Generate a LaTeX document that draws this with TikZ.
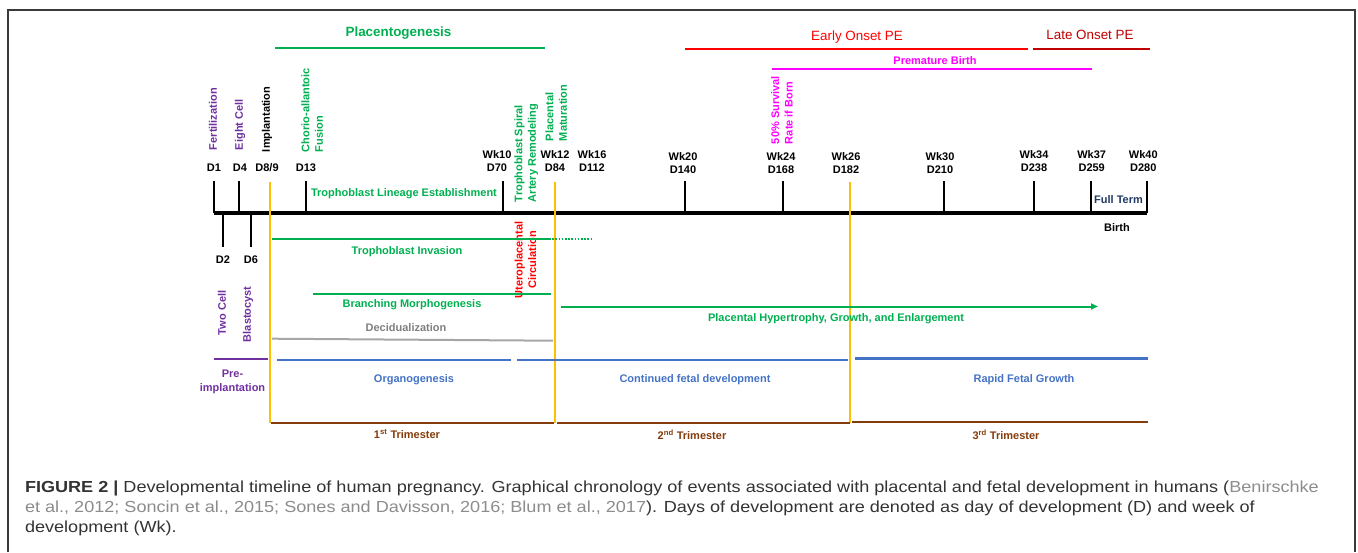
\documentclass[tikz,border=0pt]{standalone}
\usepackage{fontspec}
\setmainfont{Liberation Sans}
\newfontfamily\capfont[FakeStretch=1.13]{Liberation Sans}
\usetikzlibrary{arrows.meta}
\definecolor{cgreen}{HTML}{00B050}
\definecolor{cpurple}{HTML}{7030A0}
\definecolor{cred}{HTML}{FF0000}
\definecolor{cdred}{HTML}{C00000}
\definecolor{cmag}{HTML}{FF00FF}
\definecolor{cblue}{HTML}{4472C4}
\definecolor{cnavy}{HTML}{203864}
\definecolor{cbrown}{HTML}{843C0C}
\definecolor{corange}{HTML}{FFC000}
\definecolor{cgrayline}{HTML}{A6A6A6}
\definecolor{cgraytext}{HTML}{7F7F7F}
\definecolor{cframe}{HTML}{3A3A3A}
\definecolor{ccap}{HTML}{333333}
\definecolor{cref}{HTML}{8C8C8C}
\begin{document}
\begin{tikzpicture}[x=1pt,y=-1pt,
  every node/.style={inner sep=0pt, outer sep=0pt},
  lbl/.style={font=\bfseries\fontsize{11}{13.5}\selectfont},
  ticklbl/.style={align=center, font=\bfseries\fontsize{11}{13}\selectfont},
  vlbl/.style={lbl, rotate=90, anchor=west, align=left},
  tickline/.style={line width=1.8pt, black},
  axisline/.style={line width=3.5pt, black},
  orangeline/.style={corange, line width=1.6pt},
  trimline/.style={cbrown, line width=2pt},
  fetalline/.style={cblue, line width=2.5pt},
  greenline/.style={cgreen, line width=2pt},
  capline/.style={anchor=west, font=\capfont\fontsize{16}{19}\selectfont, text=ccap},
  ]
\useasboundingbox (0,0) rectangle (1358,552);
% frame
\coordinate (fbl) at (8,552);
\coordinate (ftl) at (8,10);
\coordinate (ftr) at (1355,10);
\coordinate (fbr) at (1355,552);
\draw[cframe, line width=1.5pt] (fbl) -- (ftl) -- (ftr) -- (fbr);

% axis
\coordinate (a0) at (214,213);
\coordinate (a1) at (1147,213);
\draw[axisline] (a0) -- (a1);
\foreach \n/\x in {t1/214, t4/239, t13/306, t70/503, t140/685, t168/783, t210/944, t238/1034, t259/1091, t280/1147}{
  \coordinate (\n) at (\x,181);
  \draw[tickline] (\n) -- (\n |- a0);
}
\foreach \n/\x in {t2/223, t6/251}{
  \coordinate (\n) at (\x,247);
  \draw[tickline] (\n |- a0) -- (\n);
}

% tick labels
\node[ticklbl] (lD1) at (214,168) {D1};
\node[ticklbl] (lD4) at (240,168) {D4};
\node[ticklbl] (lD8) at (267,168) {D8/9};
\node[ticklbl] (lD13) at (306,168) {D13};
\node[ticklbl] (lD70) at (497,161.5) {Wk10\\D70};
\node[ticklbl] (lD84) at (555,161.5) {Wk12\\D84};
\node[ticklbl] (lD112) at (592,161.5) {Wk16\\D112};
\node[ticklbl] (lD140) at (683,163.3) {Wk20\\D140};
\node[ticklbl] (lD168) at (781,163.3) {Wk24\\D168};
\node[ticklbl] (lD182) at (846,163.3) {Wk26\\D182};
\node[ticklbl] (lD210) at (940,163.3) {Wk30\\D210};
\node[ticklbl] (lD238) at (1034,161.5) {Wk34\\D238};
\node[ticklbl] (lD259) at (1091.7,161.5) {Wk37\\D259};
\node[ticklbl] (lD280) at (1143.3,161.5) {Wk40\\D280};
\node[ticklbl] (lD2) at (223,260) {D2};
\node[ticklbl] (lD6) at (251,260) {D6};

% vertical event labels
\node[vlbl, text=cpurple] (fert) at (213,150) {Fertilization};
\node[vlbl, text=cpurple] (eight) at (240,150) {Eight Cell};
\node[vlbl, text=black] (impl) at (267,152) {Implantation};
\node[vlbl, text=cgreen] (chorio) at (312.3,152) {Chorio-allantoic\\Fusion};
\node[vlbl, text=cgreen] (spiral) at (526.3,202) {Trophoblast Spiral\\Artery Remodeling};
\node[vlbl, text=cgreen] (matur) at (556.3,141) {Placental\\Maturation};
\node[vlbl, text=cmag] (surv) at (782,144) {50\% Survival\\Rate if Born};
\node[vlbl, text=cpurple] (twocell) at (222,335) {Two Cell};
\node[vlbl, text=cpurple] (blast) at (248,342) {Blastocyst};
\node[lbl, rotate=90, align=center, text=cred] (utero) at (525.5,260) {Uteroplacental\\Circulation};

% top bars
\coordinate (pg0) at (275,47.7);
\coordinate (pg1) at (545,47.7);
\draw[cgreen, line width=2.2pt] (pg0) -- (pg1);
\node[font=\bfseries\fontsize{13.4}{15}\selectfont, text=cgreen] (placento) at (398.5,33) {Placentogenesis};
\coordinate (eo0) at (685,49);
\coordinate (eo1) at (1028,49);
\draw[cred, line width=2.2pt] (eo0) -- (eo1);
\node[font=\fontsize{13.4}{15}\selectfont, text=cred] (early) at (857,37) {Early Onset PE};
\coordinate (lo0) at (1033,49);
\coordinate (lo1) at (1150,49);
\draw[cdred, line width=2.2pt] (lo0) -- (lo1);
\node[font=\fontsize{13.4}{15}\selectfont, text=cdred] (late) at (1090,35) {Late Onset PE};
\coordinate (pm0) at (772,69.3);
\coordinate (pm1) at (1092,69.3);
\draw[cmag, line width=2pt] (pm0) -- (pm1);
\node[lbl, text=cmag] (premat) at (935,61) {Premature Birth};

% labels near axis
\node[lbl, text=cgreen] (lineage) at (404,193.5) {Trophoblast Lineage Establishment};
\node[lbl, text=cnavy] (fullterm) at (1118.5,200) {Full Term};
\node[lbl, text=black] (birth) at (1117,228) {Birth};

% orange trimester boundaries
\coordinate (o1t) at (270,182); \coordinate (o1b) at (270,423);
\coordinate (o2t) at (555,182); \coordinate (o2b) at (555,423);
\coordinate (o3t) at (850,182); \coordinate (o3b) at (850,423);
\draw[orangeline] (o1t) -- (o1b);
\draw[orangeline] (o2t) -- (o2b);
\draw[orangeline] (o3t) -- (o3b);

% placental processes
\coordinate (ti0) at (272,239.3); \coordinate (ti1) at (549,239.3); \coordinate (ti2) at (592,239.3);
\draw[greenline] (ti0) -- (ti1);
\draw[cgreen, line width=1.8pt, dash pattern=on 1.6pt off 1.6pt] (ti1) -- (ti2);
\node[lbl, text=cgreen] (invasion) at (407,252) {Trophoblast Invasion};
\coordinate (bm0) at (313,293.7); \coordinate (bm1) at (551,293.7);
\draw[greenline] (bm0) -- (bm1);
\node[lbl, text=cgreen] (branch) at (412,305) {Branching Morphogenesis};
\node[lbl, text=cgraytext] (decid) at (406,328) {Decidualization};
\coordinate (de0) at (272,338.7); \coordinate (de1) at (553,340.7);
\draw[cgrayline, line width=2pt] (de0) -- (de1);
\coordinate (ph0) at (561,306.5); \coordinate (ph1) at (1098,306.5);
\draw[greenline, -{Triangle[length=7pt, width=6pt]}] (ph0) -- (ph1);
\node[lbl, text=cgreen] (hyper) at (836,318.5) {Placental Hypertrophy, Growth, and Enlargement};

% pre-implantation
\coordinate (pi0) at (214,359); \coordinate (pi1) at (268,359);
\draw[cpurple, line width=2.2pt] (pi0) -- (pi1);
\node[lbl, align=center, text=cpurple, font=\bfseries\fontsize{11}{14}\selectfont] (preimpl) at (232.5,382) {Pre-\\implantation};

% fetal development
\coordinate (f10) at (277,360); \coordinate (f11) at (511,360);
\coordinate (f20) at (517,360); \coordinate (f21) at (848,360);
\coordinate (f30) at (855,358.5); \coordinate (f31) at (1148,358.5);
\draw[fetalline] (f10) -- (f11);
\draw[fetalline] (f20) -- (f21);
\draw[fetalline] (f30) -- (f31);
\node[lbl, text=cblue] (organo) at (414,380) {Organogenesis};
\node[lbl, text=cblue] (contfetal) at (695,380) {Continued fetal development};
\node[lbl, text=cblue] (rapid) at (1024,380) {Rapid Fetal Growth};

% trimesters
\coordinate (tr10) at (271,423); \coordinate (tr11) at (554,423);
\coordinate (tr20) at (557,423); \coordinate (tr21) at (850,423);
\coordinate (tr30) at (852,421.5); \coordinate (tr31) at (1148,421.5);
\draw[trimline] (tr10) -- (tr11);
\draw[trimline] (tr20) -- (tr21);
\draw[trimline] (tr30) -- (tr31);
\node[lbl, text=cbrown] (tri1) at (407,434.5) {1\textsuperscript{st} Trimester};
\node[lbl, text=cbrown] (tri2) at (692,434.5) {2\textsuperscript{nd} Trimester};
\node[lbl, text=cbrown] (tri3) at (1006,434.5) {3\textsuperscript{rd} Trimester};

% caption
\node[capline] (cap1) at (25,488) {\textbf{FIGURE 2 |} Developmental timeline of human pregnancy. Graphical chronology of events associated with placental and fetal development in humans (\textcolor{cref}{Benirschke}};
\node[capline] (cap2) at (25,508) {\textcolor{cref}{et al., 2012; Soncin et al., 2015; Sones and Davisson, 2016; Blum et al., 2017}). Days of development are denoted as day of development (D) and week of};
\node[capline] (cap3) at (25,528) {development (Wk).};
\end{tikzpicture}
\end{document}
